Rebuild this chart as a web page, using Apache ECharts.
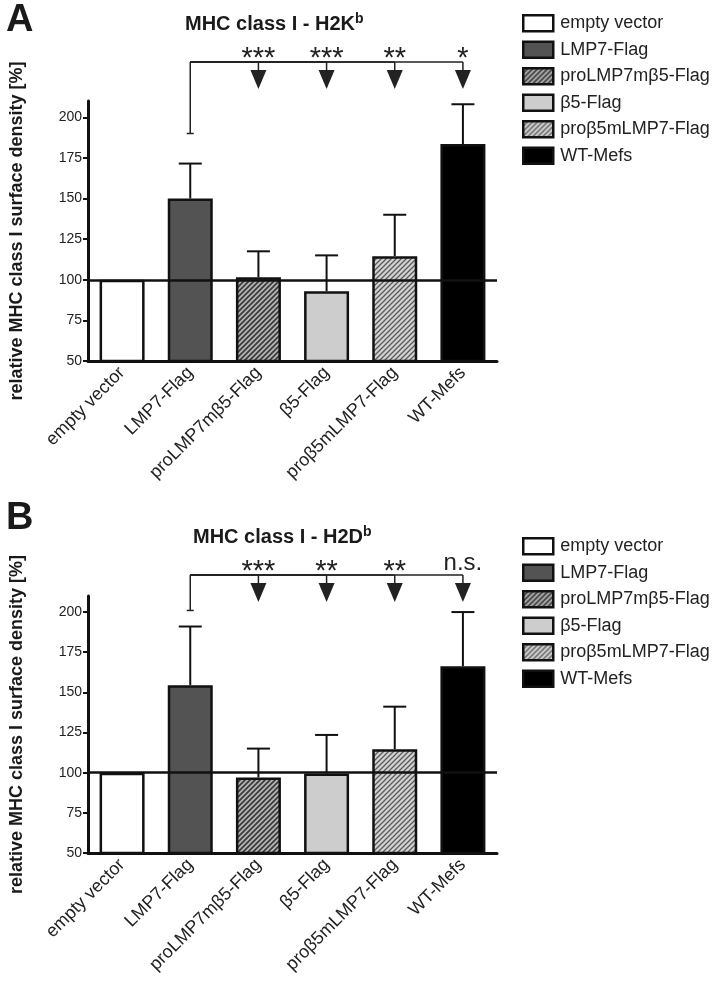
<!DOCTYPE html>
<html>
<head>
<meta charset="utf-8">
<script src="https://cdn.jsdelivr.net/npm/echarts@6/dist/echarts.min.js"></script>
<style>
  html, body { margin: 0; background: #fff; }
  #chart { width: 721px; height: 988px; }
</style>
</head>
<body>
<div id="chart"></div>
<script>
// data
var categories = ['empty vector', 'LMP7-Flag', 'proLMP7mβ5-Flag', 'β5-Flag', 'proβ5mLMP7-Flag', 'WT-Mefs'];
var h2kMeans = [100, 150, 101.5, 93, 114.5, 183.5];
var h2kSem   = [0, 21.5, 16, 22, 25.5, 24.5];
var h2dMeans = [100, 154.5, 97, 99.5, 114.6, 166.3];
var h2dSem   = [0, 36.5, 18, 24, 26.5, 33.7];
var yTicks = [50, 75, 100, 125, 150, 175, 200];
// significance vs LMP7-Flag (index 1), for categories 2..5
var h2kStars = ['***', '***', '**', '*'];
var h2dStars = ['***', '**', '**', 'n.s.'];
var h2kBracket = [234, 190];   // bracket level, left leg end
var h2dBracket = [223, 201];

var FONT = "'Liberation Sans', Arial, sans-serif";

function hatch(bg, fg, lw) {
    var s = 5;
    var c = document.createElement('canvas');
    c.width = s; c.height = s;
    var g = c.getContext('2d');
    g.fillStyle = bg;
    g.fillRect(0, 0, s, s);
    g.strokeStyle = fg;
    g.lineWidth = lw;
    g.beginPath();
    g.moveTo(-1, s + 1); g.lineTo(s + 1, -1);
    g.moveTo(-1, 1); g.lineTo(1, -1);
    g.moveTo(s - 1, s + 1); g.lineTo(s + 1, s - 1);
    g.stroke();
    return { image: c, repeat: 'repeat' };
}

var fills = ['#ffffff', '#535353', hatch('#b4b4b4', '#3a3a3a', 1.7), '#cdcdcd', hatch('#d2d2d2', '#5a5a5a', 1.3), '#000000'];

function barSeries(means, gi) {
    return categories.map(function (name, i) {
        var s = {
            name: name,
            type: 'bar',
            xAxisIndex: gi,
            yAxisIndex: gi,
            barWidth: 45,
            barGap: '-100%',
            data: categories.map(function (c, j) { return j === i ? means[j] : null; }),
            itemStyle: { color: fills[i], borderColor: '#111', borderWidth: 2.5 },
            emphasis: { disabled: true }
        };
        if (i === 0) {
            s.markLine = {
                silent: true,
                symbol: 'none',
                label: { show: false },
                lineStyle: { color: '#111', width: 2.5, type: 'solid' },
                data: [{ yAxis: 100 }]
            };
        }
        return s;
    });
}

function errSeries(means, sem, gi) {
    return {
        type: 'custom',
        xAxisIndex: gi,
        yAxisIndex: gi,
        z: 4,
        clip: false,
        data: means.map(function (m, i) { return [i, m, m + sem[i]]; }),
        renderItem: function (params, api) {
            if (api.value(2) <= api.value(1)) return;
            var lo = api.coord([api.value(0), api.value(1)]);
            var hi = api.coord([api.value(0), api.value(2)]);
            var st = { stroke: '#111', lineWidth: 2 };
            return {
                type: 'group',
                children: [
                    { type: 'line', shape: { x1: lo[0], y1: lo[1], x2: hi[0], y2: hi[1] }, style: st },
                    { type: 'line', shape: { x1: hi[0] - 11.5, y1: hi[1], x2: hi[0] + 11.5, y2: hi[1] }, style: st }
                ]
            };
        }
    };
}

function bracketSeries(stars, br, gi) {
    return {
        type: 'custom',
        xAxisIndex: gi,
        yAxisIndex: gi,
        z: 5,
        clip: false,
        silent: true,
        data: stars.map(function (s, k) { return [k + 2, br[0]]; }),
        renderItem: function (params, api) {
            var st = { stroke: '#222', lineWidth: 1.5 };
            var from = api.coord([1, br[0]]);
            var to = api.coord([api.value(0), br[0]]);
            var x = to[0], y = to[1];
            var label = stars[params.dataIndex];
            var isStar = label.indexOf('*') >= 0;
            var kids = [
                { type: 'line', shape: { x1: from[0], y1: y, x2: x, y2: y }, style: st },
                { type: 'line', shape: { x1: x, y1: y, x2: x, y2: y + 9 }, style: st },
                { type: 'polygon', shape: { points: [[x - 8, y + 8], [x + 8, y + 8], [x, y + 27]] }, style: { fill: '#222' } },
                {
                    type: 'text',
                    style: {
                        text: label, x: x, y: isStar ? y - 3 : y - 12,
                        align: 'center', verticalAlign: 'middle',
                        font: (isStar ? '29px ' : '24px ') + FONT, fill: '#222'
                    }
                }
            ];
            if (params.dataIndex === 0) {
                var leg = api.coord([1, br[1]]);
                kids.push({ type: 'line', shape: { x1: from[0], y1: y, x2: from[0], y2: leg[1] }, style: st });
                kids.push({ type: 'line', shape: { x1: from[0] - 3.5, y1: leg[1], x2: from[0] + 3.5, y2: leg[1] }, style: st });
            }
            return { type: 'group', children: kids };
        }
    };
}

function xAxis(gi) {
    return {
        type: 'category',
        gridIndex: gi,
        data: categories,
        axisLine: { onZero: false, lineStyle: { color: '#111', width: 3 } },
        axisTick: { alignWithLabel: true, length: 6, lineStyle: { color: '#111', width: 2.5 } },
        axisLabel: { rotate: 45, margin: 9, fontSize: 18, fontFamily: FONT, color: '#222', interval: 0 },
        splitLine: { show: false }
    };
}

function yAxis(gi) {
    return {
        type: 'value',
        gridIndex: gi,
        min: 50,
        max: 210,
        interval: 25,
        name: 'relative MHC class I surface density [%]',
        nameLocation: 'middle',
        nameRotate: 90,
        nameGap: 62,
        nameTextStyle: { fontSize: 18, fontWeight: 'bold', fontFamily: FONT, color: '#1a1a1a' },
        axisLine: { show: true, lineStyle: { color: '#111', width: 3 } },
        axisTick: { show: true, length: 5, customValues: yTicks, lineStyle: { color: '#111', width: 2 } },
        axisLabel: { fontSize: 14, fontFamily: FONT, color: '#222', margin: 6, customValues: yTicks },
        splitLine: { show: false }
    };
}

function legend(top) {
    return {
        orient: 'vertical',
        left: 517,
        top: top,
        itemWidth: 30,
        itemHeight: 16,
        itemGap: 8,
        selectedMode: false,
        icon: 'rect',
        data: categories,
        itemStyle: { borderColor: '#111', borderWidth: 2.5 },
        textStyle: { fontSize: 18, fontFamily: FONT, color: '#222', padding: [0, 0, 0, 2] }
    };
}

function panelTitle(txt, sup, left, top) {
    return {
        text: '{t|' + txt + '}{s|' + sup + '}',
        left: left,
        top: top,
        padding: 0,
        textStyle: {
            rich: {
                t: { fontSize: 20, fontWeight: 'bold', fontFamily: FONT, color: '#1a1a1a' },
                s: { fontSize: 14, fontWeight: 'bold', fontFamily: FONT, color: '#1a1a1a', padding: [0, 0, 10, 0] }
            }
        }
    };
}

var chart = echarts.init(document.getElementById('chart'), null, { renderer: 'canvas' });

chart.setOption({
    animation: false,
    backgroundColor: '#fff',
    title: [
        { text: 'A', left: 6, top: 2, padding: 0, textStyle: { fontSize: 38, fontWeight: 'bold', fontFamily: FONT, color: '#1a1a1a' } },
        panelTitle('MHC class I - H2K', 'b', 185, 12),
        { text: 'B', left: 6, top: 500, padding: 0, textStyle: { fontSize: 38, fontWeight: 'bold', fontFamily: FONT, color: '#1a1a1a' } },
        panelTitle('MHC class I - H2D', 'b', 193, 525)
    ],
    legend: [legend(9), legend(532)],
    grid: [
        { left: 88, top: 101, width: 409, height: 260, outerBoundsMode: 'none' },
        { left: 88, top: 596, width: 409, height: 257, outerBoundsMode: 'none' }
    ],
    xAxis: [xAxis(0), xAxis(1)],
    yAxis: [yAxis(0), yAxis(1)],
    series: [].concat(
        barSeries(h2kMeans, 0),
        [errSeries(h2kMeans, h2kSem, 0), bracketSeries(h2kStars, h2kBracket, 0)],
        barSeries(h2dMeans, 1),
        [errSeries(h2dMeans, h2dSem, 1), bracketSeries(h2dStars, h2dBracket, 1)]
    )
});
</script>
</body>
</html>
